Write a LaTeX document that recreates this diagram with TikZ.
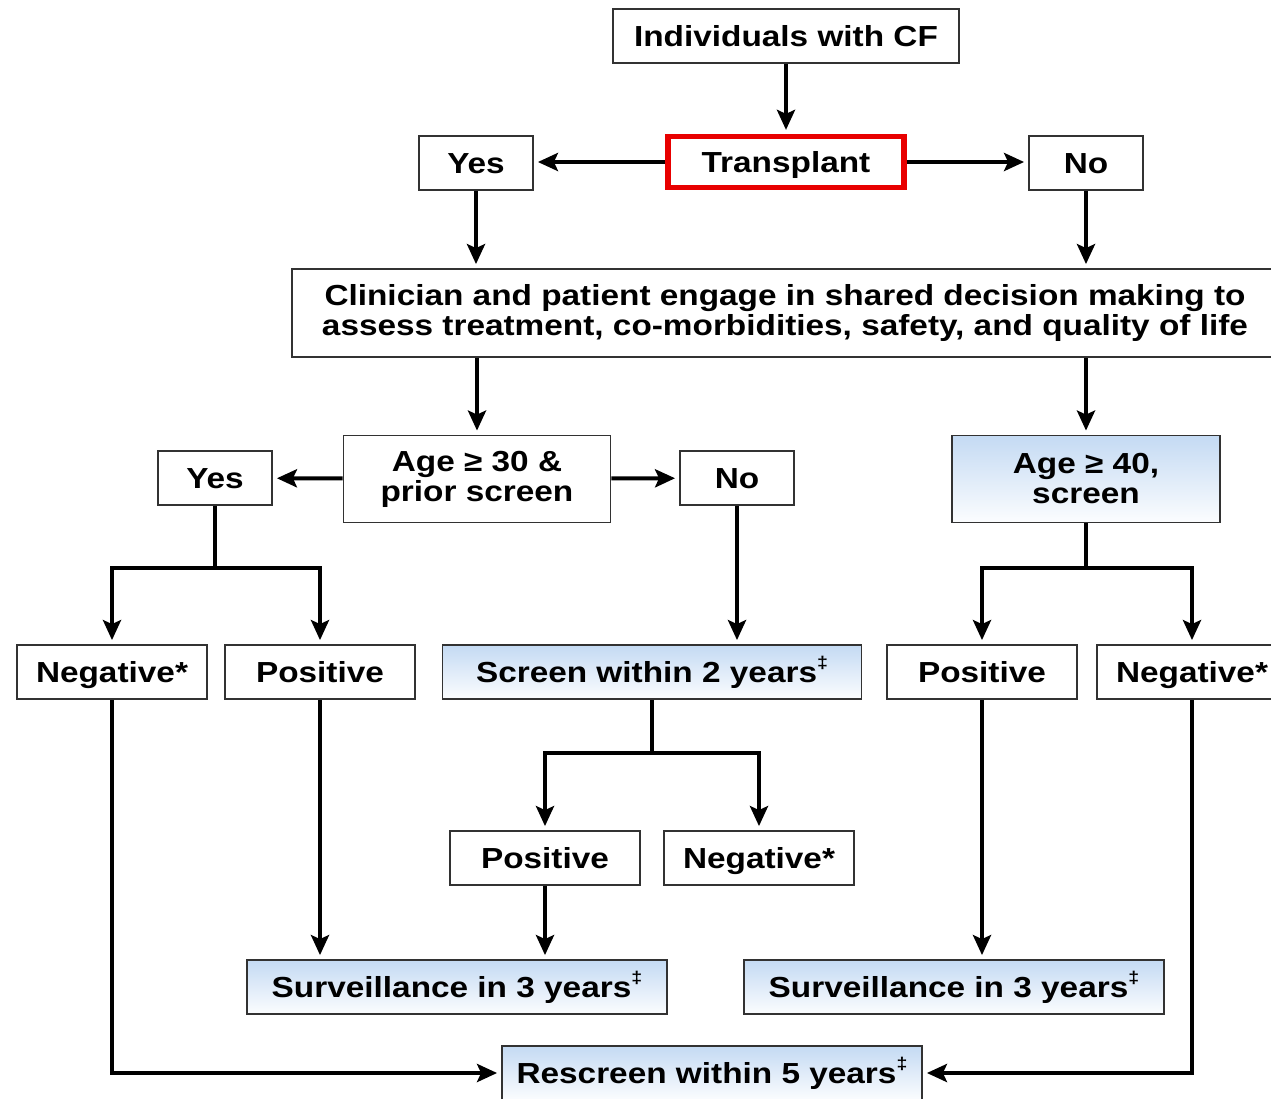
\documentclass[tikz,border=0pt]{standalone}
\usepackage{fontspec}
\setmainfont{Liberation Sans}[FakeStretch=1.15]
\usetikzlibrary{arrows.meta}
\definecolor{boxblue}{RGB}{196,218,243}
\definecolor{boxline}{RGB}{50,50,50}
\definecolor{tpred}{RGB}{232,0,0}
\newcommand{\ddagmark}{\raisebox{0.45em}{\fontsize{8.5}{9}\selectfont ‡}}

\begin{document}
\begin{tikzpicture}[
        x=0.5pt, y=-0.5pt,
        every node/.style={font=\fontsize{14.5}{16}\selectfont\bfseries, inner sep=0pt, align=center},
        tallbox/.style={rectangle, draw=boxline, line width=0.9pt, fill=white},
        box/.style={tallbox, minimum height=27pt, text height=11.5pt, text depth=1.5pt},
        shadedbox/.style={box, top color=boxblue, bottom color=white!94!boxblue},
        redbox/.style={box, draw=tpred, line width=2.6pt, minimum width=118pt, minimum height=25.5pt},
        arrow/.style={-{Stealth[length=10pt, width=9pt, inset=2pt]}, line width=2pt, shorten >=2pt},
        link/.style={line width=2pt}
    ]
        \useasboundingbox (0,0) rectangle (1271,1099);
        \fill[white] (0,0) rectangle (1271,1099);

        % Top
        \node[box, minimum width=173pt] (cf) at (786,36) {Individuals with CF};
        \node[redbox] (tp) at (786,162) {Transplant};
        \node[box, minimum width=57pt] (yes1) at (476,163) {Yes};
        \node[box, minimum width=57pt] (no1) at (1086,163) {No};
        \draw[arrow] (cf) -- (tp);
        \draw[arrow] (tp) -- (tp -| yes1.east);
        \draw[arrow] (tp) -- (tp -| no1.west);

        % Shared decision
        \node[tallbox, minimum width=493pt, minimum height=44pt] (clin) at (785,313)
            {Clinician and patient engage in shared decision making to\\[-1pt]assess treatment, co-morbidities, safety, and quality of life};
        \draw[arrow] (yes1) -- (yes1 |- clin.north);
        \draw[arrow] (no1) -- (no1 |- clin.north);

        % Age
        \node[tallbox, minimum width=133.5pt, minimum height=43.5pt] (age30) at (477,479) {Age ≥ 30 \&\\[-1pt]prior screen};
        \node[tallbox, top color=boxblue, bottom color=white!94!boxblue, minimum width=134pt, minimum height=43.5pt] (age40) at (1086,479) {Age ≥ 40,\\[-1pt]screen};
        \node[box, minimum width=57pt] (yes2) at (215,478) {Yes};
        \node[box, minimum width=57pt] (no2) at (737,478) {No};
        \draw[arrow] (clin.south -| age30) -- (age30);
        \draw[arrow] (clin.south -| age40) -- (age40);
        \draw[arrow] (age30) -- (yes2);
        \draw[arrow] (age30) -- (no2);

        % Screen results
        \node[box, minimum width=95pt] (neg1) at (112,672) {Negative*};
        \node[box, minimum width=95pt] (pos1) at (320,672) {Positive};
        \node[shadedbox, minimum width=209.5pt] (scr2) at (652,672) {Screen within 2 years\ddagmark};
        \node[box, minimum width=95pt] (pos3) at (982,672) {Positive};
        \node[box, minimum width=95pt] (neg3) at (1192,672) {Negative*};

        \coordinate (split1) at (215,568);
        \coordinate (split3) at (1086,568);
        \draw[link] (yes2) -- (split1);
        \draw[arrow] (split1) -| (neg1);
        \draw[arrow] (split1) -| (pos1);
        \draw[arrow] (no2) -- (no2 |- scr2.north);
        \draw[link] (age40) -- (split3);
        \draw[arrow] (split3) -| (pos3);
        \draw[arrow] (split3) -| (neg3);

        % Screen within 2 years
        \node[box, minimum width=95pt] (pos2) at (545,858) {Positive};
        \node[box, minimum width=95pt] (neg2) at (759,858) {Negative*};
        \coordinate (split2) at (652,753);
        \draw[link] (scr2) -- (split2);
        \draw[arrow] (split2) -| (pos2);
        \draw[arrow] (split2) -| (neg2);

        % Follow-up
        \node[shadedbox, minimum width=210pt] (surv1) at (457,987) {Surveillance in 3 years\ddagmark};
        \node[shadedbox, minimum width=210pt] (surv2) at (954,987) {Surveillance in 3 years\ddagmark};
        \node[shadedbox, minimum width=210pt] (resc) at (712,1073) {Rescreen within 5 years\ddagmark};
        \draw[arrow] (pos1) -- (pos1 |- surv1.north);
        \draw[arrow] (pos2) -- (pos2 |- surv1.north);
        \draw[arrow] (pos3) -- (pos3 |- surv2.north);
        \draw[arrow] (neg1) |- (resc);
        \draw[arrow] (neg3) |- (resc);

    \end{tikzpicture}
\end{document}
